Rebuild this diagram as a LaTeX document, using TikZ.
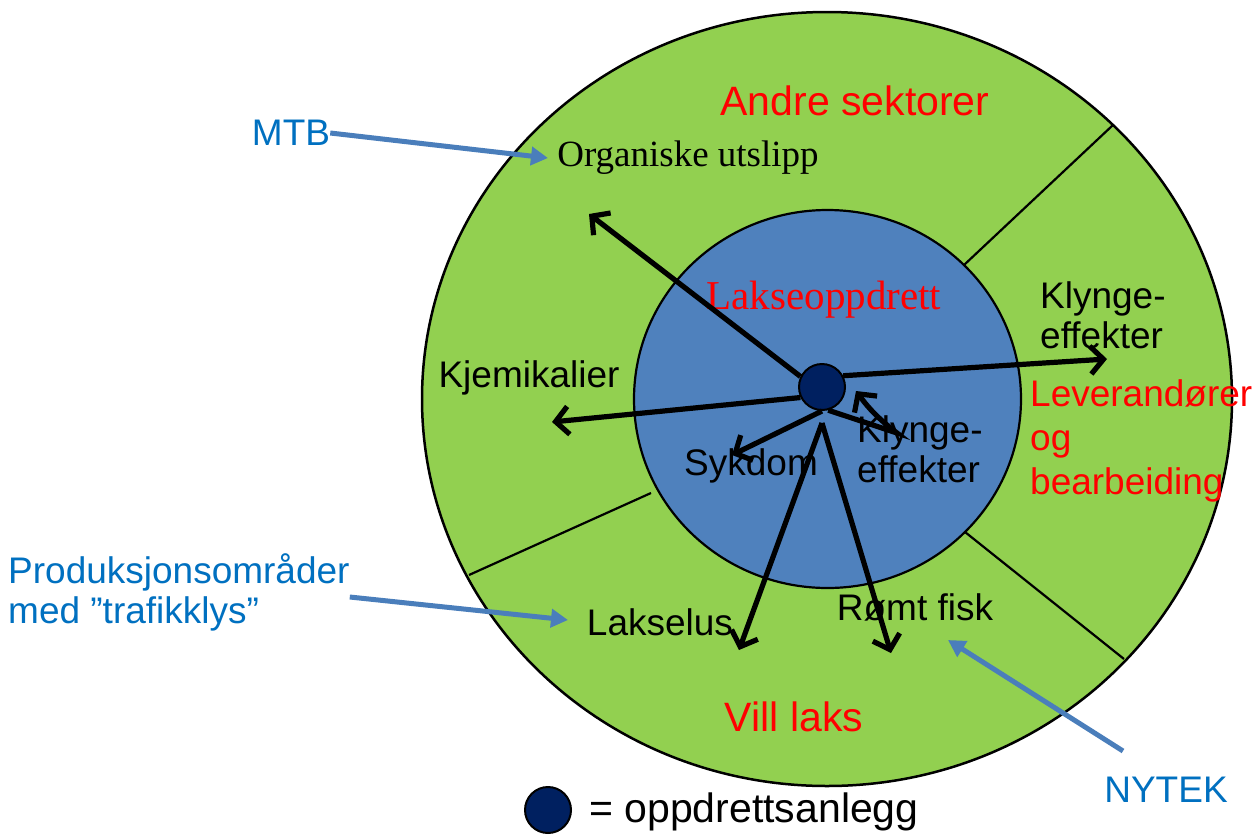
\documentclass[tikz,border=0pt]{standalone}
\usepackage{fontspec}
\setmainfont{Liberation Sans}
\newfontfamily\timesfont{Liberation Serif}
\usetikzlibrary{arrows.meta}
\definecolor{sectorgreen}{HTML}{92D050}
\definecolor{farmblue}{HTML}{4F81BD}
\definecolor{sitenavy}{HTML}{002060}
\definecolor{labelblue}{HTML}{0070C0}
\definecolor{pointerblue}{HTML}{4A7EBB}

\begin{document}
\begin{tikzpicture}[x=1pt,y=-1pt,
  txt/.style={inner sep=0pt,font=\fontsize{37}{40}\selectfont},
  bigtxt/.style={inner sep=0pt,font=\fontsize{41}{44}\selectfont},
  site/.style={circle,draw=black,line width=2pt,fill=sitenavy,minimum size=46pt,inner sep=0pt},
  impact/.style={line width=5.2pt,-{Straight Barb[length=13pt,width=28pt]}},
  pointer/.style={pointerblue,line width=5pt,-{Triangle[length=17pt,width=18pt]}},
  divider/.style={line width=2.2pt}]
\useasboundingbox (0,0) rectangle (1256,839);

% sectors
\draw[fill=sectorgreen,line width=2.5pt] (827,399) ellipse [x radius=405,y radius=387];
\coordinate (ur1) at (964,265); \coordinate (ur2) at (1113,125);
\coordinate (lr1) at (965,532); \coordinate (lr2) at (1124,659);
\coordinate (ll1) at (651,493); \coordinate (ll2) at (469,575);
\draw[divider] (ur1) -- (ur2);
\draw[divider] (lr1) -- (lr2);
\draw[divider] (ll1) -- (ll2);
\draw[fill=farmblue,line width=2.2pt] (827.5,399) ellipse [x radius=193.5,y radius=189];

% labels
\node[bigtxt,red] (andre) at (855,101) {Andre sektorer};
\node[bigtxt,red] (vill) at (794,717) {Vill laks};
\node[inner sep=0pt,red,font=\timesfont\fontsize{41}{44}\selectfont] (lakse) at (824,300) {Lakseoppdrett};
\node[inner sep=0pt,font=\timesfont\fontsize{37}{40}\selectfont] (organiske) at (688,158) {Organiske utslipp};
\node[txt,align=left,anchor=west] (klyngeout) at (1040,315) {Klynge-\\effekter};
\node[inner sep=0pt,red,align=left,anchor=west,font=\fontsize{37}{44}\selectfont] (leverandor) at (1030,441) {Leverandører\\og\\bearbeiding};
\node[txt] (kjemikalier) at (529,378) {Kjemikalier};
\node[txt] (sykdom) at (751,466) {Sykdom};
\node[txt,align=left,anchor=west] (klyngein) at (857,449) {Klynge-\\effekter};
\node[txt] (lakselus) at (660,622) {Lakselus};
\node[txt] (romt) at (915,607) {Rømt fisk};

% projects
\node[txt,labelblue] (mtb) at (291,133) {MTB};
\node[txt,labelblue,align=left,anchor=west] (prod) at (8,592) {Produksjonsområder\\med ”trafikklys”};
\node[txt,labelblue] (nytek) at (1166,790) {NYTEK};
\coordinate (mtbtip) at (548,158);
\coordinate (prodtip) at (568,620);
\coordinate (nytektail) at (1123,751);
\coordinate (nytektip) at (948,640);
\draw[pointer] (mtb.east) -- (mtbtip);
\draw[pointer] ([yshift=-5pt]prod.east) -- (prodtip);
\draw[pointer] (nytektail) -- (nytektip);

% effects from the site
\node[site] (dot) at (822,387) {};
\coordinate (orgtip) at (589,214);
\coordinate (clustertip) at (1107,359);
\coordinate (chemtip) at (552,422);
\coordinate (diseasetip) at (732,455);
\coordinate (kbend) at (897,433);
\coordinate (ktip) at (856,391);
\coordinate (fork) at (822,423);
\coordinate (licetip) at (739,650);
\coordinate (escapetip) at (891,653);
\draw[impact] (dot.154) -- (orgtip);
\draw[impact] (dot.28) -- (clustertip);
\draw[impact] (dot.206) -- (chemtip);
\draw[impact] (dot.south) -- (diseasetip);
\draw[impact] (dot.-75) -- (kbend) to[bend left=8] (ktip);
\draw[impact] (fork) -- (licetip);
\draw[impact] (fork) -- (escapetip);

% legend
\node[site] (legenddot) at (548,810) {};
\node[inner sep=0pt,font=\fontsize{41}{44}\selectfont,anchor=west] (legend) at (589,812) {= oppdrettsanlegg};
\end{tikzpicture}
\end{document}
